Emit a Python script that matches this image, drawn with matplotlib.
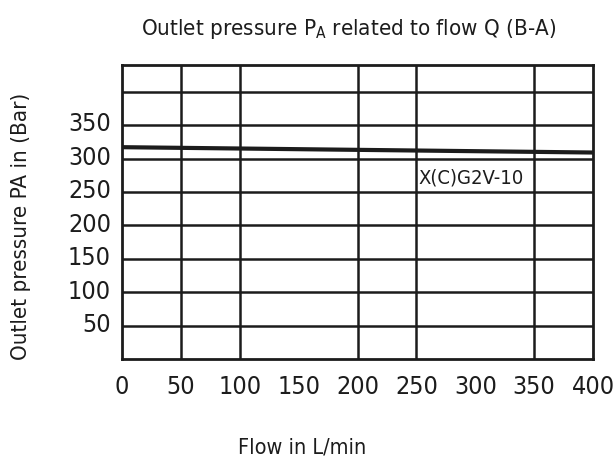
import matplotlib
matplotlib.use('Agg')
import matplotlib.pyplot as plt
from matplotlib.transforms import ScaledTranslation

# data
flow = [0, 100, 200, 300, 400]
pressure = [317, 315, 313, 311, 309]
curve_label = 'X(C)G2V-10'

x_ticks = [0, 50, 100, 150, 200, 250, 300, 350, 400]
y_ticks = [50, 100, 150, 200, 250, 300, 350]
x_grid = [50, 100, 200, 250, 350]
y_grid = [50, 100, 150, 200, 250, 300, 350, 400]

plt.rcParams['font.family'] = ['DejaVu Sans']
plt.rcParams['font.stretch'] = 'condensed'
plt.rcParams['mathtext.fontset'] = 'custom'
plt.rcParams['mathtext.rm'] = 'DejaVu Sans:stretch=condensed'

ink = '#1c1c1c'

fig = plt.figure(figsize=(6.14, 4.64), dpi=100)
ax = fig.add_axes([0.1987, 0.2241, 0.7671, 0.6337])

for xg in x_grid:
    ax.axvline(xg, color=ink, lw=1.8, zorder=1)
for yg in y_grid:
    ax.axhline(yg, color=ink, lw=1.8, zorder=1)

ax.plot(flow, pressure, color=ink, lw=3, solid_capstyle='butt', zorder=3)
ax.text(252, 273, curve_label, fontsize=14.5, color=ink, ha='left', va='center')

ax.set_xlim(0, 400)
ax.set_ylim(0, 440)
ax.set_xticks(x_ticks)
ax.set_yticks(y_ticks)
ax.tick_params(length=0)
ax.tick_params(axis='x', pad=11, labelsize=18, colors=ink)
ax.tick_params(axis='y', pad=8, labelsize=18, colors=ink)
# y labels sit a little above their grid lines in the reference
for lbl in ax.get_yticklabels():
    lbl.set_transform(lbl.get_transform() + ScaledTranslation(0, 3 / 72, fig.dpi_scale_trans))
for s in ax.spines.values():
    s.set_linewidth(2)
    s.set_color(ink)

fig.text(349 / 614, 1 - 29 / 464,
         r'Outlet pressure P$_\mathregular{A}$ related to flow Q (B-A)',
         fontsize=16, color=ink, ha='center', va='center')
fig.text(302 / 614, 1 - 448 / 464, 'Flow in L/min', fontsize=15.5, color=ink,
         ha='center', va='center')
fig.text(0.035, 1 - 226 / 464, 'Outlet pressure PA in (Bar)', rotation=90,
         fontsize=16, color=ink, ha='center', va='center')

fig.savefig('out.png', dpi=100)
